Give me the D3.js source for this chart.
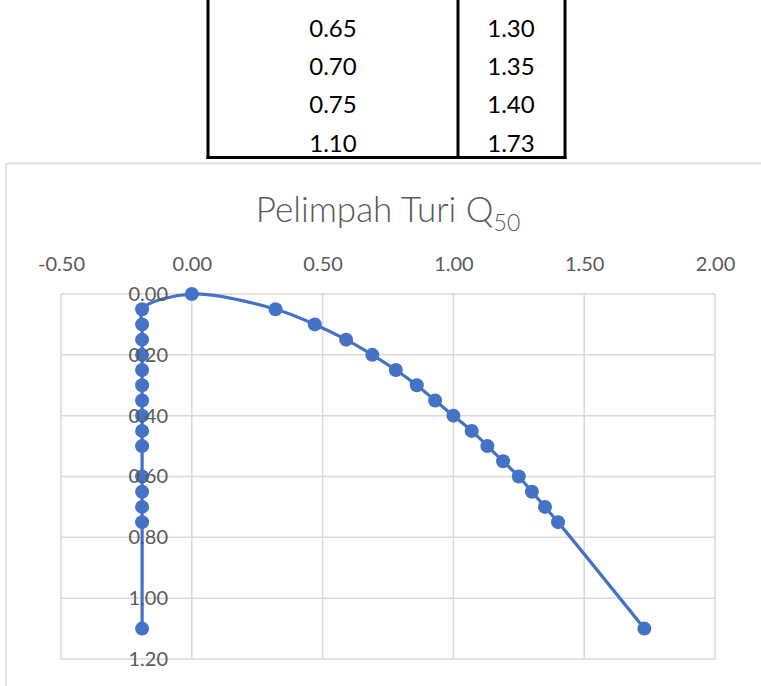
<!DOCTYPE html>
<html><head><meta charset="utf-8">
<script src="https://cdn.jsdelivr.net/npm/d3@7"></script>
<style>
html,body{margin:0;padding:0;background:#fff;}
svg{display:block;}
</style></head>
<body>
<svg id="c" width="761" height="686"></svg>
<script>
// Table (partial, cut off at top)
const tableY = [0.65, 0.70, 0.75, 1.10];
const tableX = [1.30, 1.35, 1.40, 1.73];

// Upstream face (left column), ordered bottom to top
const upstreamY = [1.10, 0.75, 0.70, 0.65, 0.60, 0.50, 0.45, 0.40, 0.35, 0.30, 0.25, 0.20, 0.15, 0.10, 0.05];
const upstreamX = [-0.19, -0.19, -0.19, -0.19, -0.19, -0.19, -0.19, -0.19, -0.19, -0.19, -0.19, -0.19, -0.19, -0.19, -0.19];
// Crest and downstream face
const downstreamY = [0.00, 0.05, 0.10, 0.15, 0.20, 0.25, 0.30, 0.35, 0.40, 0.45, 0.50, 0.55, 0.60, 0.65, 0.70, 0.75, 1.10];
const downstreamX = [0.00, 0.32, 0.47, 0.59, 0.69, 0.78, 0.86, 0.93, 1.00, 1.07, 1.13, 1.19, 1.25, 1.30, 1.35, 1.40, 1.73];

const xTicks = [-0.5, 0, 0.5, 1.0, 1.5, 2.0];
const yTicks = [0, 0.2, 0.4, 0.6, 0.8, 1.0, 1.2];
const title = "Pelimpah Turi Q";
const titleSub = "50";

const svg = d3.select("#c");
const FONT = "Lato, 'Open Sans', sans-serif";
const fmt = d => d3.format(".2f")(d).replace("\u2212", "-");

// ---------- table ----------
const tbl = svg.append("g");
const tRowY = d3.scaleLinear().domain([0, 3]).range([27, 142]);
tbl.selectAll("text.c1").data(tableY).join("text")
  .attr("x", 333).attr("y", (d, i) => tRowY(i))
  .attr("text-anchor", "middle").attr("dominant-baseline", "central")
  .attr("font-family", FONT).attr("font-size", 24).attr("fill", "#000")
  .text(d => d.toFixed(2));
tbl.selectAll("text.c2").data(tableX).join("text")
  .attr("x", 511).attr("y", (d, i) => tRowY(i))
  .attr("text-anchor", "middle").attr("dominant-baseline", "central")
  .attr("font-family", FONT).attr("font-size", 24).attr("fill", "#000")
  .text(d => d.toFixed(2));
[208, 458, 565].forEach(x => tbl.append("line").attr("x1", x).attr("x2", x).attr("y1", 0).attr("y2", 159)
  .attr("stroke", "#000").attr("stroke-width", 3));
tbl.append("line").attr("x1", 206.5).attr("x2", 566.5).attr("y1", 157.5).attr("y2", 157.5)
  .attr("stroke", "#000").attr("stroke-width", 3);

// ---------- chart frame ----------
svg.append("rect").attr("x", 6).attr("y", 163.5).attr("width", 800).attr("height", 600)
  .attr("fill", "#fff").attr("stroke", "#d9d9d9").attr("stroke-width", 1.5);

const x = d3.scaleLinear().domain([-0.5, 2.0]).range([61, 715]);
const y = d3.scaleLinear().domain([0, 1.2]).range([294, 659]);

// grid
const g = svg.append("g");
g.selectAll("line.v").data(xTicks).join("line")
  .attr("x1", d => x(d)).attr("x2", d => x(d)).attr("y1", y(0)).attr("y2", y(1.2))
  .attr("stroke", "#d9d9d9").attr("stroke-width", 1.5);
g.selectAll("line.h").data(yTicks).join("line")
  .attr("x1", x(-0.5)).attr("x2", x(2.0)).attr("y1", d => y(d)).attr("y2", d => y(d))
  .attr("stroke", "#d9d9d9").attr("stroke-width", 1.5);

// title
const tt = svg.append("text").attr("x", 388).attr("y", 222).attr("text-anchor", "middle")
  .attr("font-family", FONT).attr("font-weight", 300).attr("font-size", 35).attr("fill", "#595959");
tt.append("tspan").text(title);
tt.append("tspan").attr("dy", 9).attr("font-size", 23).text(titleSub);

// x axis on top
const xAxis = d3.axisTop(x).tickValues(xTicks).tickFormat(fmt).tickSize(0).tickPadding(0);
const xa = svg.append("g").attr("transform", `translate(0,${264})`).call(xAxis);
xa.select(".domain").remove();
xa.selectAll("text").attr("font-family", FONT).attr("font-size", 20).attr("fill", "#595959")
  .attr("dy", "0.35em").attr("y", 0);

// series
const pts = upstreamX.map((d, i) => [d, upstreamY[i]])
  .concat(downstreamX.map((d, i) => [d, downstreamY[i]]));
const line = d3.line().x(d => x(d[0])).y(d => y(d[1])).curve(d3.curveCatmullRom.alpha(0.5));
svg.append("path").datum(pts).attr("d", line).attr("fill", "none")
  .attr("stroke", "#4472c4").attr("stroke-width", 3.2);
svg.selectAll("circle.pt").data(pts).join("circle")
  .attr("cx", d => x(d[0])).attr("cy", d => y(d[1])).attr("r", 7)
  .attr("fill", "#4472c4");

// y axis labels (drawn on top)
const yAxis = d3.axisLeft(y).tickValues(yTicks).tickFormat(fmt).tickSize(0).tickPadding(0);
const ya = svg.append("g").attr("transform", `translate(${168},0)`).call(yAxis);
ya.select(".domain").remove();
ya.selectAll("text").attr("font-family", FONT).attr("font-size", 20).attr("fill", "#595959");
</script>
</body></html>
